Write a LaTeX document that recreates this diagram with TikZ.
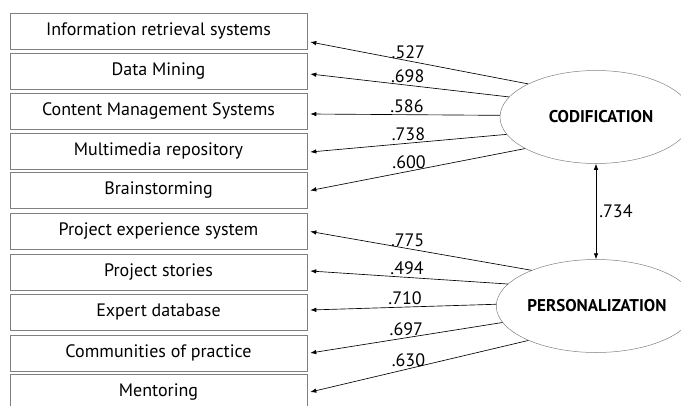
\documentclass[tikz,border=0pt]{standalone}
\usepackage{fontspec}
\setmainfont{PT Sans}
\usetikzlibrary{shapes.geometric, arrows.meta}

\begin{document}
\begin{tikzpicture}[x = 1pt, y = 1pt,
		item/.style = {draw = gray, line width = 0.6pt, minimum width = 297pt, minimum height = 36pt, inner sep = 0pt},
		factor/.style = {ellipse, draw = gray, line width = 0.5pt, minimum width = 192pt, minimum height = 93pt, inner sep = 0pt, font = \fontsize{17}{19}\selectfont\bfseries},
		conn/.style = {-{Latex[length = 6pt, width = 4.5pt]}, line width = 0.65pt},
		wt/.style = {above, inner sep = 2pt}]
	\fontsize{18}{20}\selectfont
	\useasboundingbox (0, 0) rectangle (681, -405);
	% indicator boxes
	\foreach \n/\yc/\txt in {1/31/Information retrieval systems, 2/71/Data Mining,
			3/111/Content Management Systems, 4/151/Multimedia repository,
			5/190.5/Brainstorming, 6/231.5/Project experience system,
			7/272/Project stories, 8/312/Expert database,
			9/353/Communities of practice, 10/392/Mentoring}
		\node[item] (i\n) at (158.5, -\yc) {\txt};
	% latent factors
	\node[factor] (cod) at (596, -117) {\hspace*{10pt}CODIFICATION};
	\node[factor] (pers) at (596, -306) {\hspace*{2pt}PERSONALIZATION};
	% loadings
	\foreach \n/\a/\dy/\p/\w in {1/154/-11/0.55/.527, 2/167/-3/0.51/.698,
			3/179/-3/0.49/.586, 4/191/-1/0.50/.738, 5/204/0/0.54/.600}
		\draw[conn] (cod.\a) -- ([xshift = 3pt, yshift = \dy]i\n.east) node[wt, pos = \p] {\w};
	\foreach \n/\a/\dy/\p/\w in {6/151/0/0.56/.775, 7/166/1/0.51/.494,
			8/179/2/0.49/.710, 9/190/0/0.50/.697, 10/207/0/0.55/.630}
		\draw[conn] (pers.\a) -- ([xshift = 3pt, yshift = \dy]i\n.east) node[wt, pos = \p] {\w};
	% correlation
	\draw[{Latex[length = 6pt, width = 4.5pt]}-{Latex[length = 6pt, width = 4.5pt]}, line width = 0.65pt]
		(cod.south) -- (pers.north) node[midway, right, inner sep = 3pt] {.734};
\end{tikzpicture}
\end{document}
